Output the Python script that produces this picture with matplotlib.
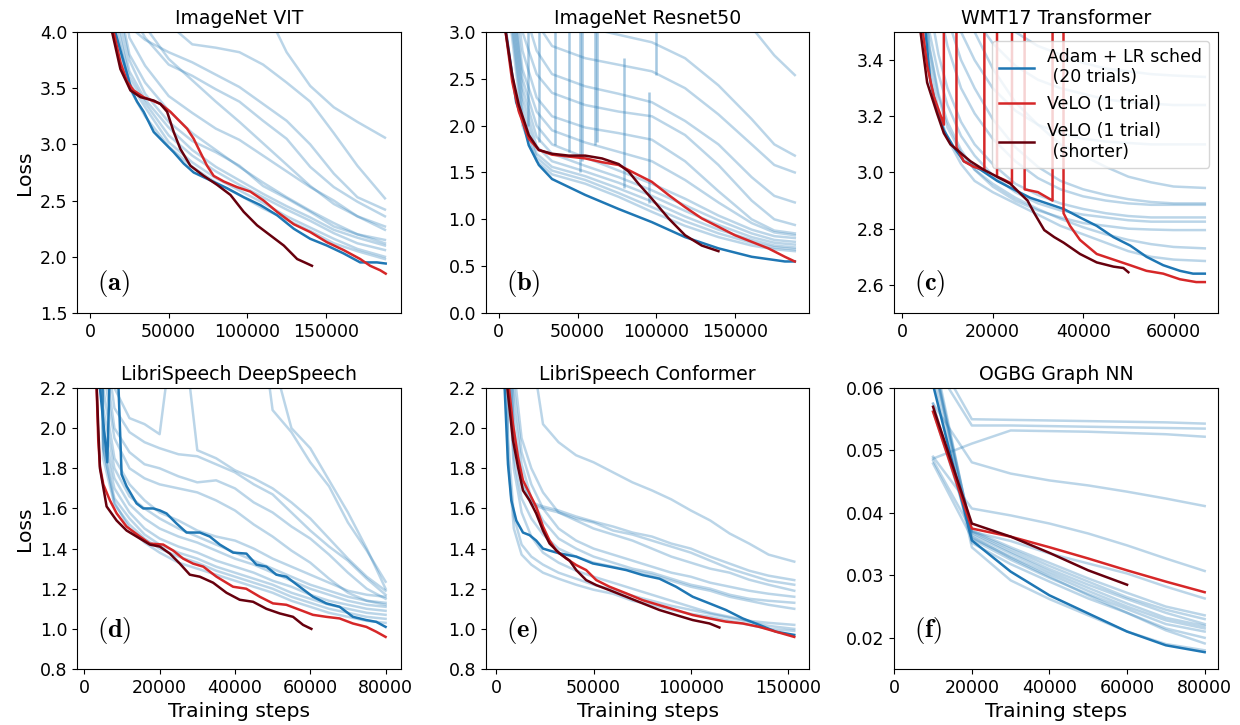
import matplotlib
matplotlib.use("Agg")
import matplotlib.pyplot as plt

plt.rcParams['mathtext.fontset'] = 'cm'
plt.rcParams['font.size'] = 12.5

# ---------------- (a) ImageNet VIT ----------------
a_steps = [0, 15000, 25000, 35000, 50000, 65000, 80000, 95000, 110000, 125000, 140000, 155000, 170000, 187500]
a_trials = [
    [7, 6.5, 6, 5.6, 5.2, 4.9, 4.7, 4.5, 4.25, 3.82, 3.52, 3.33, 3.2, 3.06],
    [7, 6, 5.3, 4.6, 4.07, 3.89, 3.86, 3.82, 3.71, 3.55, 3.38, 3.10, 2.81, 2.52],
    [7, 5, 4.05, 3.93, 3.82, 3.73, 3.62, 3.51, 3.36, 3.21, 3.0, 2.74, 2.53, 2.42],
    [7, 5.2, 4.2, 3.95, 3.71, 3.61, 3.49, 3.38, 3.21, 3.05, 2.80, 2.62, 2.49, 2.36],
    [7, 4.8, 3.95, 3.7, 3.43, 3.28, 3.14, 3.04, 2.90, 2.76, 2.62, 2.50, 2.36, 2.27],
    [7, 4.4, 3.75, 3.45, 3.2, 3.03, 2.93, 2.81, 2.63, 2.52, 2.40, 2.27, 2.20, 2.15],
    [7, 4.3, 3.65, 3.40, 3.15, 2.95, 2.80, 2.68, 2.56, 2.45, 2.35, 2.24, 2.17, 2.10],
    [7, 4.2, 3.6, 3.37, 3.08, 2.90, 2.76, 2.64, 2.53, 2.42, 2.32, 2.21, 2.12, 2.06],
    [7, 4.1, 3.55, 3.33, 3.02, 2.84, 2.70, 2.59, 2.48, 2.36, 2.26, 2.16, 2.07, 2.0],
    [7, 5.5, 4.5, 4.05, 3.76, 3.57, 3.38, 3.20, 3.01, 2.82, 2.63, 2.47, 2.36, 2.24],
    [7, 4.5, 3.8, 3.55, 3.3, 3.1, 2.95, 2.80, 2.66, 2.53, 2.41, 2.30, 2.20, 2.12],
    [7, 4.0, 3.5, 3.25, 2.98, 2.80, 2.66, 2.55, 2.43, 2.33, 2.23, 2.12, 2.05, 1.98],
]
a_best_x = [10000, 16000, 26700, 29900, 34100, 40500, 46800, 53200, 59500, 65900, 76500, 87100, 97700,
            108300, 118900, 129500, 140000, 150600, 161200, 171800, 182400, 188000]
a_best_y = [4.6, 4.0, 3.47, 3.38, 3.29, 3.11, 3.02, 2.93, 2.83, 2.75, 2.68, 2.61, 2.53, 2.46, 2.37, 2.25,
            2.16, 2.10, 2.03, 1.95, 1.95, 1.94]
a_velo_x = [10000, 15000, 19300, 23500, 27700, 34100, 44700, 51100, 55300, 61700, 65900, 70100, 74400,
            78600, 85000, 93400, 101900, 110400, 118900, 129500, 140000, 150600, 161200, 171800, 178100,
            184500, 188000]
a_velo_y = [4.5, 4.0, 3.73, 3.56, 3.48, 3.42, 3.36, 3.29, 3.23, 3.14, 3.05, 2.93, 2.81, 2.72, 2.67, 2.62,
            2.58, 2.50, 2.40, 2.29, 2.22, 2.13, 2.06, 1.98, 1.92, 1.88, 1.85]
a_short_x = [10000, 14000, 19300, 25700, 32100, 40500, 44700, 49000, 53200, 57400, 63800, 72300, 80800,
             89300, 97700, 106200, 114700, 123200, 131700, 138000, 141100]
a_short_y = [4.5, 4.0, 3.67, 3.48, 3.42, 3.39, 3.36, 3.29, 3.11, 2.96, 2.81, 2.72, 2.64, 2.55, 2.40, 2.28,
             2.19, 2.10, 1.98, 1.94, 1.92]

# ---------------- (b) ImageNet Resnet50 ----------------
b_steps = [0, 8000, 15000, 24000, 33800, 54900, 76100, 97200, 118300, 139500, 160600, 175000, 188000]
b_trials = [
    [6, 5.5, 5.0, 4.6, 4.3, 4.0, 3.7, 3.5, 3.3, 3.15, 3.05, 2.75, 2.54],
    [6, 5.0, 4.2, 3.5, 3.2, 3.05, 2.97, 2.89, 2.72, 2.43, 2.07, 1.80, 1.68],
    [6, 4.5, 3.6, 3.1, 2.85, 2.72, 2.65, 2.58, 2.40, 2.12, 1.80, 1.58, 1.50],
    [6, 4.2, 3.3, 2.8, 2.55, 2.42, 2.34, 2.25, 2.05, 1.80, 1.45, 1.25, 1.18],
    [6, 4.0, 3.0, 2.55, 2.35, 2.22, 2.15, 2.10, 1.90, 1.58, 1.20, 1.00, 0.94],
    [6, 3.8, 2.8, 2.3, 2.10, 1.98, 1.92, 1.85, 1.62, 1.30, 1.00, 0.88, 0.85],
    [6, 3.6, 2.6, 2.15, 1.95, 1.82, 1.72, 1.62, 1.42, 1.18, 0.96, 0.86, 0.83],
    [6, 3.5, 2.5, 2.0, 1.80, 1.66, 1.52, 1.38, 1.22, 1.04, 0.89, 0.82, 0.80],
    [6, 3.4, 2.4, 1.88, 1.70, 1.57, 1.45, 1.31, 1.15, 0.99, 0.85, 0.78, 0.76],
    [6, 3.3, 2.3, 1.78, 1.62, 1.51, 1.39, 1.25, 1.09, 0.94, 0.81, 0.75, 0.73],
    [6, 3.2, 2.2, 1.70, 1.56, 1.46, 1.33, 1.19, 1.03, 0.89, 0.78, 0.72, 0.70],
    [6, 3.1, 2.1, 1.66, 1.52, 1.42, 1.28, 1.13, 0.98, 0.85, 0.75, 0.70, 0.68],
    [6, 3.0, 2.0, 1.62, 1.48, 1.38, 1.24, 1.08, 0.93, 0.81, 0.72, 0.68, 0.66],
]
b_spike_x = [18400, 25400, 35900, 44400, 51800, 52800, 61300, 62300, 79200, 95100, 100000]
b_spike_lo = [2.0, 1.83, 1.79, 1.72, 1.51, 1.62, 1.79, 1.83, 1.33, 1.17, 2.54]
b_spike_hi = [3.1, 3.1, 3.1, 3.1, 3.1, 3.1, 3.1, 3.1, 2.72, 2.36, 3.1]
b_best_x = [2000, 4600, 11000, 14800, 19000, 25400, 33800, 54900, 76100, 97200, 118300, 139500, 160600,
            181700, 188000]
b_best_y = [4.0, 3.0, 2.25, 2.07, 1.79, 1.58, 1.43, 1.26, 1.11, 0.97, 0.81, 0.69, 0.60, 0.55, 0.55]
b_velo_x = [2000, 4300, 8500, 12700, 19000, 25400, 33800, 44400, 54900, 65500, 76100, 86600, 97200,
            107800, 118300, 128900, 139500, 150000, 160600, 171200, 181700, 188000]
b_velo_y = [4.0, 3.0, 2.47, 2.15, 1.86, 1.74, 1.69, 1.67, 1.65, 1.61, 1.58, 1.49, 1.40, 1.26, 1.13, 1.01,
            0.92, 0.83, 0.76, 0.69, 0.60, 0.55]
b_short_x = [2000, 4300, 8500, 12700, 19000, 25400, 33800, 44400, 54900, 65500, 76100, 82400, 88700,
             97200, 107800, 118300, 128900, 139500]
b_short_y = [4.0, 3.0, 2.54, 2.22, 1.90, 1.74, 1.70, 1.68, 1.68, 1.65, 1.59, 1.51, 1.38, 1.22, 1.01, 0.83,
             0.72, 0.66]

# ---------------- (c) WMT17 Transformer ----------------
c_steps = [2000, 4000, 6000, 8000, 10000, 13000, 16000, 20000, 25000, 30000, 35000, 40000, 45000, 50000, 55000, 60000, 66900]
c_trials = [
    [5, 4.6, 4.3, 4.1, 3.95, 3.8, 3.7, 3.6, 3.5, 3.45, 3.42, 3.39, 3.37, 3.36, 3.35, 3.345, 3.34],
    [5, 4.5, 4.2, 3.95, 3.8, 3.65, 3.55, 3.46, 3.38, 3.33, 3.30, 3.28, 3.26, 3.25, 3.245, 3.24, 3.24],
    [5, 4.4, 4.0, 3.8, 3.65, 3.5, 3.40, 3.30, 3.22, 3.17, 3.14, 3.12, 3.11, 3.105, 3.10, 3.10, 3.10],
    [5, 4.6, 4.3, 4.0, 3.8, 3.62, 3.50, 3.37, 3.25, 3.17, 3.10, 3.06, 3.02, 2.985, 2.965, 2.95, 2.945],
    [5, 4.3, 3.9, 3.7, 3.55, 3.40, 3.30, 3.19, 3.09, 3.02, 2.97, 2.94, 2.92, 2.905, 2.895, 2.89, 2.89],
    [5, 4.2, 3.8, 3.6, 3.45, 3.30, 3.21, 3.12, 3.04, 2.98, 2.94, 2.915, 2.90, 2.89, 2.885, 2.885, 2.885],
    [5, 4.0, 3.6, 3.42, 3.30, 3.18, 3.10, 3.03, 2.96, 2.92, 2.89, 2.87, 2.855, 2.845, 2.84, 2.84, 2.84],
    [5, 3.9, 3.5, 3.35, 3.24, 3.13, 3.06, 2.99, 2.93, 2.89, 2.865, 2.85, 2.84, 2.83, 2.825, 2.825, 2.825],
    [5, 3.8, 3.45, 3.28, 3.18, 3.08, 3.01, 2.95, 2.90, 2.865, 2.84, 2.82, 2.81, 2.80, 2.797, 2.795, 2.795],
    [5, 3.75, 3.44, 3.27, 3.16, 3.07, 3.01, 2.96, 2.91, 2.87, 2.835, 2.805, 2.78, 2.76, 2.745, 2.735, 2.73],
    [5, 3.7, 3.40, 3.22, 3.12, 3.03, 2.97, 2.93, 2.89, 2.85, 2.81, 2.78, 2.75, 2.72, 2.70, 2.69, 2.685],
]
c_best_x = [3000, 5150, 6250, 7700, 9200, 11400, 13600, 17300, 21000, 24600, 28300, 32000, 35700, 39300,
            43000, 46700, 50400, 54000, 57700, 61400, 64300, 66900]
c_best_y = [4.0, 3.5, 3.32, 3.22, 3.15, 3.09, 3.04, 3.01, 2.97, 2.94, 2.91, 2.89, 2.87, 2.84, 2.81, 2.77,
            2.74, 2.70, 2.67, 2.65, 2.64, 2.64]
c_velo_x = [3000, 5500, 7000, 9190, 9200, 11980, 11990, 13600, 15800, 18150, 18160, 20950, 20960, 22400,
            24260, 24270, 27050, 27060, 30000, 33230, 33240, 35650, 35660, 37100, 39300, 43000, 46700,
            50400, 54000, 57700, 61400, 65000, 66900]
c_velo_y = [3.7, 3.38, 3.27, 3.17, 3.7, 3.7, 3.09, 3.04, 3.02, 3.01, 3.7, 3.7, 2.985, 2.975, 2.96, 3.7,
            3.7, 2.94, 2.93, 2.90, 3.7, 3.7, 2.855, 2.81, 2.76, 2.71, 2.69, 2.67, 2.65, 2.64, 2.62, 2.61, 2.61]
c_short_x = [3000, 4040, 5500, 7700, 9190, 10660, 12130, 15070, 18000, 20960, 23900, 26100, 27700, 29200,
             31400, 33600, 35700, 39300, 43000, 46700, 48900, 50000]
c_short_y = [4.0, 3.5, 3.32, 3.21, 3.14, 3.10, 3.08, 3.04, 3.01, 2.985, 2.96, 2.925, 2.90, 2.855, 2.795,
             2.77, 2.75, 2.71, 2.68, 2.665, 2.66, 2.645]

# ---------------- (d) LibriSpeech DeepSpeech ----------------
d_steps = [3000, 5000, 8000, 12000, 16000, 20000, 25000, 30000, 35000, 40000, 45000, 50000, 55000, 60000, 65000, 70000, 75000, 80000]
d_trials = [
    [5, 5, 5, 5, 5, 5, 5, 4.5, 4, 3.5, 2.8, 2.09, 1.98, 1.83, 1.71, 1.53, 1.39, 1.235],
    [5, 5, 5, 5, 5, 5, 5, 4.5, 4, 3.5, 3.0, 2.35, 2.00, 1.90, 1.74, 1.58, 1.40, 1.20],
    [5, 2.6, 2.2, 2.05, 2.02, 1.97, 2.7, 1.89, 1.85, 1.79, 1.75, 1.70, 1.63, 1.55, 1.45, 1.35, 1.26, 1.19],
    [5, 2.5, 2.1, 1.98, 1.93, 1.90, 1.87, 1.86, 1.82, 1.78, 1.72, 1.67, 1.58, 1.49, 1.41, 1.34, 1.25, 1.17],
    [5, 2.4, 2.0, 1.88, 1.82, 1.80, 1.76, 1.73, 1.74, 1.70, 1.63, 1.58, 1.51, 1.45, 1.37, 1.28, 1.20, 1.15],
    [5, 2.3, 1.95, 1.80, 1.75, 1.72, 1.70, 1.68, 1.64, 1.59, 1.52, 1.46, 1.39, 1.33, 1.25, 1.18, 1.14, 1.13],
    [5, 2.2, 1.85, 1.72, 1.64, 1.58, 1.54, 1.49, 1.46, 1.44, 1.40, 1.35, 1.31, 1.27, 1.23, 1.19, 1.17, 1.16],
    [5, 2.1, 1.80, 1.66, 1.60, 1.55, 1.50, 1.46, 1.42, 1.38, 1.34, 1.30, 1.26, 1.22, 1.19, 1.16, 1.14, 1.12],
    [5, 2.0, 1.75, 1.62, 1.55, 1.50, 1.46, 1.43, 1.39, 1.35, 1.32, 1.28, 1.24, 1.20, 1.17, 1.14, 1.12, 1.11],
    [5, 1.95, 1.70, 1.58, 1.50, 1.45, 1.41, 1.38, 1.34, 1.31, 1.28, 1.24, 1.21, 1.17, 1.14, 1.12, 1.10, 1.09],
    [5, 1.9, 1.65, 1.55, 1.47, 1.42, 1.38, 1.35, 1.31, 1.28, 1.25, 1.22, 1.18, 1.15, 1.12, 1.10, 1.08, 1.07],
    [5, 1.85, 1.62, 1.52, 1.45, 1.40, 1.36, 1.33, 1.29, 1.26, 1.23, 1.20, 1.16, 1.13, 1.10, 1.08, 1.06, 1.05],
    [5, 1.9, 1.63, 1.50, 1.43, 1.38, 1.33, 1.30, 1.27, 1.24, 1.21, 1.18, 1.14, 1.11, 1.08, 1.06, 1.04, 1.03],
]
d_best_x = [3500, 4150, 6100, 6800, 8900, 9900, 11230, 13880, 15650, 18300, 20070, 21830, 24490, 27140,
            30670, 33330, 35980, 39510, 43050, 45700, 48350, 51000, 53660, 57190, 60730, 64270, 67800,
            71340, 74870, 77530, 80000]
d_best_y = [2.6, 2.2, 1.83, 2.3, 2.3, 1.77, 1.71, 1.625, 1.60, 1.60, 1.59, 1.575, 1.525, 1.48, 1.48, 1.46,
            1.42, 1.38, 1.375, 1.32, 1.31, 1.27, 1.26, 1.21, 1.16, 1.127, 1.11, 1.06, 1.044, 1.035, 1.01]
d_velo_x = [3000, 3270, 3700, 4150, 5040, 6800, 8600, 11200, 14760, 17400, 20950, 23600, 26250, 28900,
            31600, 35100, 39500, 43000, 46600, 50100, 53650, 57200, 60700, 64270, 67800, 71300, 74900,
            77500, 80000]
d_velo_y = [2.6, 2.2, 1.94, 1.81, 1.72, 1.64, 1.575, 1.51, 1.46, 1.425, 1.42, 1.39, 1.35, 1.325, 1.31,
            1.26, 1.21, 1.20, 1.16, 1.127, 1.12, 1.095, 1.07, 1.06, 1.052, 1.027, 1.01, 0.986, 0.96]
d_short_x = [3000, 3300, 3710, 4150, 5920, 8570, 11230, 14760, 17410, 20070, 22720, 25370, 28020, 30670,
             34210, 37750, 41280, 44820, 48350, 51890, 55430, 58080, 60290]
d_short_y = [2.6, 2.2, 2.0, 1.80, 1.61, 1.54, 1.49, 1.45, 1.42, 1.41, 1.375, 1.325, 1.27, 1.26, 1.23, 1.18,
             1.145, 1.135, 1.10, 1.077, 1.06, 1.02, 1.0]

# ---------------- (e) LibriSpeech Conformer ----------------
e_steps = [3000, 6000, 9000, 13000, 18000, 24000, 32000, 41000, 50000, 60000, 70000, 80000, 90000, 100000,
           110000, 120000, 130000, 140000, 153200]
e_trials = [
    [5, 5, 4, 3.2, 2.4, 2.02, 1.93, 1.865, 1.83, 1.78, 1.73, 1.69, 1.645, 1.59, 1.54, 1.475, 1.425, 1.37, 1.335],
    [5, 2.6, 2.0, 1.75, 1.63, 1.61, 1.59, 1.56, 1.535, 1.51, 1.48, 1.46, 1.425, 1.40, 1.36, 1.325, 1.29, 1.265, 1.243],
    [5, 2.5, 1.95, 1.72, 1.62, 1.60, 1.58, 1.55, 1.53, 1.49, 1.47, 1.44, 1.41, 1.38, 1.34, 1.30, 1.27, 1.24, 1.22],
    [5, 3, 2.3, 1.95, 1.80, 1.68, 1.58, 1.54, 1.50, 1.47, 1.44, 1.40, 1.36, 1.33, 1.30, 1.28, 1.245, 1.22, 1.19],
    [5, 2.8, 2.2, 1.88, 1.72, 1.60, 1.50, 1.44, 1.40, 1.37, 1.34, 1.31, 1.28, 1.26, 1.23, 1.21, 1.19, 1.175, 1.16],
    [5, 2.7, 2.1, 1.82, 1.65, 1.54, 1.45, 1.40, 1.36, 1.33, 1.30, 1.28, 1.25, 1.22, 1.20, 1.17, 1.15, 1.14, 1.13],
    [5, 2.4, 1.85, 1.65, 1.55, 1.47, 1.40, 1.36, 1.33, 1.31, 1.29, 1.27, 1.24, 1.21, 1.19, 1.16, 1.14, 1.12, 1.10],
    [5, 2.3, 1.8, 1.58, 1.46, 1.38, 1.33, 1.29, 1.26, 1.23, 1.20, 1.17, 1.14, 1.11, 1.08, 1.06, 1.04, 1.03, 1.02],
    [5, 1.95, 1.56, 1.42, 1.36, 1.32, 1.28, 1.25, 1.22, 1.195, 1.165, 1.14, 1.115, 1.095, 1.075, 1.055, 1.035, 1.015, 1.0],
    [5, 1.85, 1.5, 1.37, 1.32, 1.28, 1.25, 1.22, 1.195, 1.175, 1.14, 1.12, 1.095, 1.075, 1.06, 1.04, 1.02, 1.0, 0.99],
]
e_best_x = [3000, 4280, 6000, 7700, 10270, 13700, 17100, 20500, 24000, 27400, 32500, 41100, 49600, 58200,
            66800, 75300, 83900, 92400, 101000, 109600, 118100, 126700, 135200, 143800, 153200]
e_best_y = [2.6, 2.2, 1.82, 1.64, 1.54, 1.48, 1.467, 1.44, 1.40, 1.39, 1.376, 1.36, 1.326, 1.31, 1.293,
            1.268, 1.25, 1.21, 1.16, 1.127, 1.094, 1.052, 1.02, 0.986, 0.97]
e_velo_x = [5000, 6500, 8560, 11130, 13700, 17100, 20500, 24000, 27400, 30800, 36000, 41100, 46200, 51400,
            58200, 66800, 75300, 83900, 92400, 101000, 109600, 118100, 126700, 135200, 143800, 153200]
e_velo_y = [2.6, 2.2, 2.02, 1.857, 1.74, 1.674, 1.608, 1.51, 1.44, 1.39, 1.35, 1.318, 1.293, 1.243, 1.21,
            1.177, 1.143, 1.118, 1.094, 1.069, 1.052, 1.036, 1.027, 1.01, 0.986, 0.96]
e_short_x = [4500, 5650, 8560, 11130, 13700, 17100, 20500, 24000, 27400, 32500, 37700, 41100, 46200, 51400,
             58200, 66800, 75300, 83900, 92400, 101000, 109600, 114700]
e_short_y = [2.6, 2.2, 1.94, 1.807, 1.69, 1.64, 1.575, 1.49, 1.425, 1.376, 1.34, 1.293, 1.243, 1.218, 1.193,
             1.16, 1.127, 1.094, 1.069, 1.044, 1.027, 1.007]

# ---------------- (f) OGBG Graph NN ----------------
f_steps = [10000, 20000, 30000, 40000, 50000, 60000, 70000, 80000]
f_trials = [
    [0.066, 0.055, 0.0549, 0.0548, 0.0547, 0.0546, 0.0545, 0.0543],
    [0.064, 0.054, 0.054, 0.0539, 0.0538, 0.0537, 0.0536, 0.0535],
    [0.0487, 0.0511, 0.0532, 0.0531, 0.053, 0.0528, 0.0526, 0.0522],
    [0.0575, 0.0481, 0.0463, 0.0452, 0.0444, 0.0434, 0.0423, 0.0411],
    [0.049, 0.0407, 0.0396, 0.0383, 0.0367, 0.0348, 0.0327, 0.0307],
    [0.064, 0.037, 0.0355, 0.0335, 0.0319, 0.0303, 0.0282, 0.0263],
    [0.0484, 0.0372, 0.0345, 0.0320, 0.0295, 0.0272, 0.0250, 0.0236],
    [0.065, 0.0368, 0.0338, 0.0310, 0.0285, 0.0262, 0.0240, 0.0222],
    [0.066, 0.0365, 0.0335, 0.0306, 0.0280, 0.0255, 0.0232, 0.0219],
    [0.0479, 0.0360, 0.0330, 0.0302, 0.0275, 0.0250, 0.0228, 0.0215],
    [0.064, 0.0358, 0.0325, 0.0296, 0.0270, 0.0246, 0.0222, 0.0210],
    [0.065, 0.0352, 0.0318, 0.0290, 0.0263, 0.0240, 0.0215, 0.0200],
    [0.062, 0.0345, 0.0292, 0.0262, 0.0236, 0.0210, 0.0190, 0.0180],
    [0.0563, 0.0370, 0.0342, 0.0315, 0.0290, 0.0265, 0.0245, 0.0230],
    [0.0575, 0.0362, 0.0328, 0.0298, 0.0268, 0.0240, 0.0212, 0.0191],
]
f_best_y = [0.0605, 0.0356, 0.0306, 0.0268, 0.0239, 0.0210, 0.0188, 0.0177]
f_velo_y = [0.0562, 0.0375, 0.0362, 0.0345, 0.0327, 0.0308, 0.0290, 0.0273]
f_short_x = [10000, 20000, 30000, 40000, 50000, 60000]
f_short_y = [0.0570, 0.0383, 0.0362, 0.0336, 0.0308, 0.0285]

BLUE = '#1f77b4'
RED = '#d62728'
DARKRED = '#67000d'
LW = 1.8


def draw_panel(ax, steps, trials, best, velo, short, title, xlim, ylim, yticks, xticks, letter, letter_y):
    for tr in trials:
        ax.plot(steps, tr, color=BLUE, alpha=0.3, lw=LW)
    h1, = ax.plot(best[0], best[1], color=BLUE, lw=LW)
    h2, = ax.plot(velo[0], velo[1], color=RED, lw=LW)
    h3, = ax.plot(short[0], short[1], color=DARKRED, lw=LW)
    ax.set_xlim(xlim)
    ax.set_ylim(ylim)
    ax.set_yticks(yticks)
    ax.set_xticks(xticks)
    ax.set_title(title, fontsize=13.6)
    ax.text(0.062, letter_y, r'$(\mathbf{' + letter + '})$', transform=ax.transAxes,
            fontsize=19, ha='left', va='center')
    return h1, h2, h3


fig, axes = plt.subplots(2, 3, figsize=(12.4, 7.25), dpi=100)
fig.subplots_adjust(left=0.0621, right=0.9823, top=0.9559, bottom=0.0772, wspace=0.262, hspace=0.267)

ax = axes[0, 0]
draw_panel(ax, a_steps, a_trials, (a_best_x, a_best_y), (a_velo_x, a_velo_y), (a_short_x, a_short_y),
           'ImageNet VIT', (-8300, 197600), (1.5, 4.0), [1.5, 2.0, 2.5, 3.0, 3.5, 4.0],
           [0, 50000, 100000, 150000], 'a', 0.106)
ax.set_ylabel('Loss', fontsize=14.7)

ax = axes[0, 1]
ax.vlines(b_spike_x, b_spike_lo, b_spike_hi, color=BLUE, alpha=0.4, lw=LW)
draw_panel(ax, b_steps, b_trials, (b_best_x, b_best_y), (b_velo_x, b_velo_y), (b_short_x, b_short_y),
           'ImageNet Resnet50', (-8400, 197300), (0.0, 3.0), [0.0, 0.5, 1.0, 1.5, 2.0, 2.5, 3.0],
           [0, 50000, 100000, 150000], 'b', 0.106)

ax = axes[0, 2]
hs = draw_panel(ax, c_steps, c_trials, (c_best_x, c_best_y), (c_velo_x, c_velo_y), (c_short_x, c_short_y),
                'WMT17 Transformer', (-1770, 69830), (2.5, 3.5), [2.6, 2.8, 3.0, 3.2, 3.4],
                [0, 20000, 40000, 60000], 'c', 0.106)
ax.legend(hs, ['Adam + LR sched\n (20 trials)', 'VeLO (1 trial)', 'VeLO (1 trial)\n (shorter)'],
          loc='upper right', fontsize=12.5)

ax = axes[1, 0]
draw_panel(ax, d_steps, d_trials, (d_best_x, d_best_y), (d_velo_x, d_velo_y), (d_short_x, d_short_y),
           'LibriSpeech DeepSpeech', (-1940, 84040), (0.8, 2.2), [0.8, 1.0, 1.2, 1.4, 1.6, 1.8, 2.0, 2.2],
           [0, 20000, 40000, 60000, 80000], 'd', 0.136)
ax.set_ylabel('Loss', fontsize=14.7)
ax.set_xlabel('Training steps', fontsize=14.7)

ax = axes[1, 1]
draw_panel(ax, e_steps, e_trials, (e_best_x, e_best_y), (e_velo_x, e_velo_y), (e_short_x, e_short_y),
           'LibriSpeech Conformer', (-5500, 161000), (0.8, 2.2), [0.8, 1.0, 1.2, 1.4, 1.6, 1.8, 2.0, 2.2],
           [0, 50000, 100000, 150000], 'e', 0.136)
ax.set_xlabel('Training steps', fontsize=14.7)

ax = axes[1, 2]
draw_panel(ax, f_steps, f_trials, (f_steps, f_best_y), (f_steps, f_velo_y), (f_short_x, f_short_y),
           'OGBG Graph NN', (0, 83450), (0.015, 0.06), [0.02, 0.03, 0.04, 0.05, 0.06],
           [0, 20000, 40000, 60000, 80000], 'f', 0.136)
ax.set_xlabel('Training steps', fontsize=14.7)

fig.savefig('out.png', dpi=100)
